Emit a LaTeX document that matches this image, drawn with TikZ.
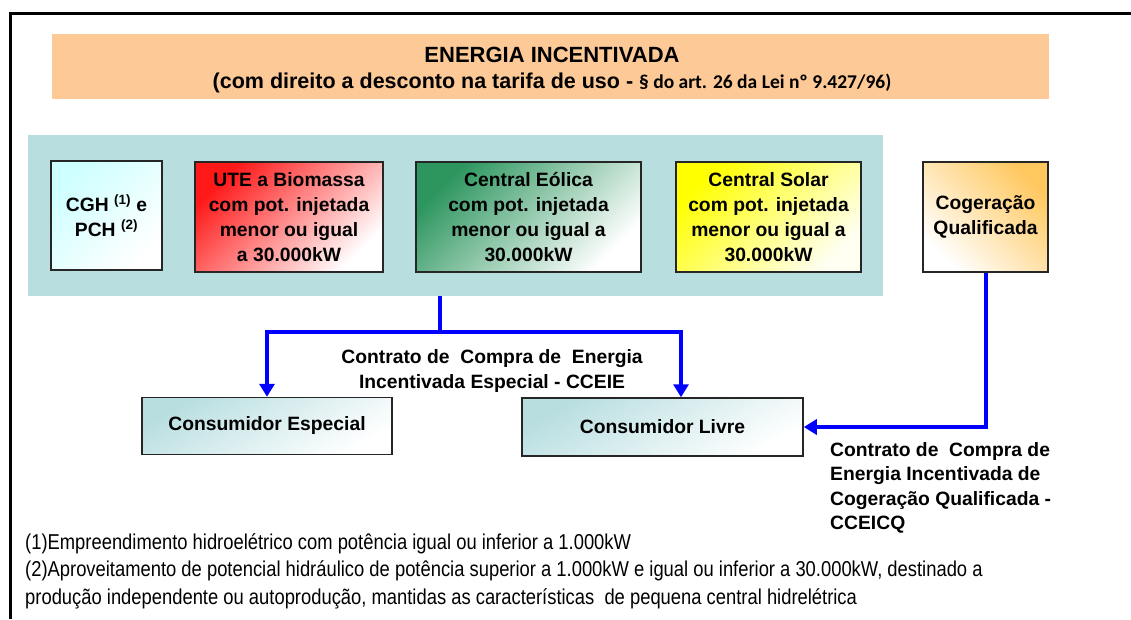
\documentclass[tikz,border=0pt]{standalone}
\usepackage{fontspec}
\setmainfont{Liberation Sans}
\newfontfamily\calfont{Carlito}
\newfontfamily\narrowfont[FakeStretch=0.855]{Liberation Sans}
\usetikzlibrary{arrows.meta,calc,positioning}
\definecolor{bannerorange}{RGB}{252,201,151}
\definecolor{panelblue}{RGB}{184,222,224}
\definecolor{cghcyan}{RGB}{205,255,255}
\definecolor{utered}{RGB}{255,25,25}
\definecolor{eolgreen}{RGB}{45,150,95}
\definecolor{solyellow}{RGB}{255,255,0}
\definecolor{cogorange}{RGB}{255,200,95}
\tikzstyle{src} = [draw=black!85, line width=1.5pt, align=center, inner sep=0pt,
font=\bfseries\fontsize{19.3}{25}\selectfont]
\tikzstyle{cons} = [src, top color=panelblue, bottom color=white, shading angle=30]
\tikzstyle{flow} = [draw=blue, line width=4pt, ->]
\tikzset{>={Triangle[length=13pt,width=15pt]}}

\begin{document}
\begin{tikzpicture}[x=1pt, y=-1pt]
            \useasboundingbox (0,0) rectangle (1131,619);
            \draw[line width=3pt] (10.5,619) -- (10.5,13) -- (1131,13);
            \node[fill=bannerorange, minimum width=997pt, minimum height=65pt] (banner) at (550.5,66.5) {};
            \node[align=center, font=\bfseries\fontsize{22}{26}\selectfont] (title) at (552,70)
            {ENERGIA INCENTIVADA\\{\fontsize{21.5}{26}\selectfont(com direito a desconto na tarifa de uso - }{\calfont\fontsize{19.5}{26}\selectfont\S\ do art. 26 da Lei nº 9.427/96)}};
            \node[fill=panelblue, minimum width=855pt, minimum height=161pt] (panel) at (455.5,215.5) {};
            \node[src, minimum width=111pt, minimum height=109pt, top color=cghcyan,
            bottom color=white, shading angle=45] (cgh) at (106.5,215.5)
            {CGH \textsuperscript{(1)} e\\PCH \textsuperscript{(2)}};
            \node[src, minimum width=188pt, minimum height=110pt, top color=utered,
            bottom color=white, shading angle=45] (ute) at (289,217)
            {UTE a Biomassa\\com pot. injetada\\menor ou igual\\a 30.000kW};
            \node[src, minimum width=225pt, minimum height=110pt, top color=eolgreen,
            bottom color=white, shading angle=45] (eol) at (528.5,217)
            {Central Eólica\\com pot. injetada\\menor ou igual a\\30.000kW};
            \node[src, minimum width=185pt, minimum height=110pt, top color=solyellow,
            bottom color=yellow!5, shading angle=45] (sol) at (768.5,217)
            {Central Solar\\com pot. injetada\\menor ou igual a\\30.000kW};
            \node[src, minimum width=125pt, minimum height=110pt, top color=cogorange,
            bottom color=white, shading angle=-45] (cog) at (985.5,217)
            {Cogeração\\Qualificada};
            \node[cons, minimum width=250pt, minimum height=57pt] (ce) at (267,426) {Consumidor Especial};
            \node[cons, minimum width=281pt, minimum height=58pt] (cl) at (662.5,427) {Consumidor Livre};
            \coordinate (split) at (440,332);
            \draw[flow] (panel.south -| split) -- (split) -| (ce.north);
            \draw[flow] (split) -| ($(cl.north)+(18.5,0)$);
            \draw[flow] (cog.south) |- (cl.east);
            \node[align=center, font=\bfseries\fontsize{19.3}{25}\selectfont] (ccelab) at (492,371)
            {Contrato de\ \ Compra de\ \ Energia\\Incentivada Especial - CCEIE};
            \node[anchor=west, align=left, inner sep=0pt, font=\bfseries\fontsize{19.3}{24.5}\selectfont] (cqlab) at (830,488)
            {Contrato de\ \ Compra de\\Energia Incentivada de\\Cogeração Qualificada -\\CCEICQ};
            \node[anchor=west, align=left, inner sep=0pt, font=\narrowfont\fontsize{21.5}{27.5}\selectfont] (notes) at (25,571)
            {(1)Empreendimento hidroelétrico com potência igual ou inferior a 1.000kW\\
            (2)Aproveitamento de potencial hidráulico de potência superior a 1.000kW e igual ou inferior a 30.000kW, destinado a\\
            produção independente ou autoprodução, mantidas as características\ \ de pequena central hidrelétrica};
        \end{tikzpicture}
\end{document}
